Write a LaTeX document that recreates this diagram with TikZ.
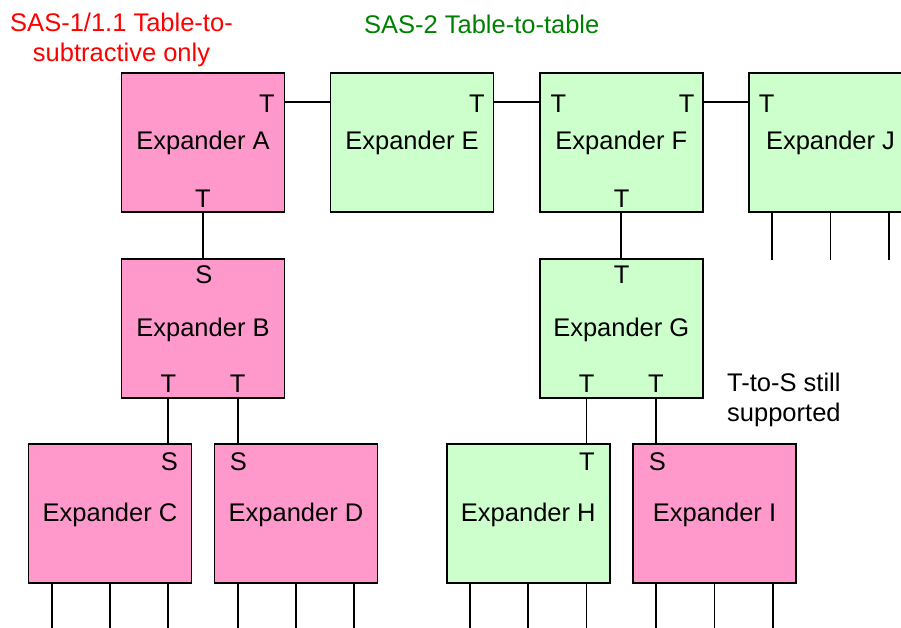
\documentclass[tikz,border=0pt]{standalone}
\usepackage{fontspec}
\setmainfont{Liberation Sans}
\usetikzlibrary{calc}

\definecolor{sasone}{HTML}{FF99CC}
\definecolor{sastwo}{HTML}{CCFFCC}
\definecolor{titlered}{HTML}{FF0000}
\definecolor{titlegreen}{HTML}{008000}

\tikzset{
  bigtext/.style={font=\fontsize{25.5}{30}\selectfont},
  expander/.style={draw=black, line width=1.7pt, minimum width=163pt,
    minimum height=139pt, inner sep=0pt, bigtext,
    text height=18.3pt, text depth=3.3pt},
  legacy/.style={expander, fill=sasone},
  modern/.style={expander, fill=sastwo},
  portlabel/.style={inner sep=0pt, bigtext},
  link/.style={line width=1.7pt, draw=black},
  caption/.style={inner sep=0pt, bigtext, align=center},
}

\begin{document}
\begin{tikzpicture}[x=1pt, y=-1pt]
  \useasboundingbox (0,0) rectangle (901,628);
  \clip (0,0) rectangle (901,628);

  % headings (base anchor = baseline of the last line)
  \node[caption, text=titlered, anchor=base] (sasonetitle) at (121.5,61.7)
    {SAS-1/1.1 Table-to-\\subtractive only};
  \node[caption, text=titlegreen, anchor=base] (sastwotitle) at (481.7,34)
    {SAS-2 Table-to-table};

  % top row
  \node[legacy] (A) at (203,142.5)   {Expander A};
  \node[modern] (E) at (412,142.5)   {Expander E};
  \node[modern] (F) at (621.3,142.5) {Expander F};
  \node[modern] (J) at (830.5,142.5) {Expander J};

  % middle row
  \node[legacy] (B) at (203,328.5)   {Expander B};
  \node[modern] (G) at (621.3,328.5) {Expander G};

  % bottom row
  \node[legacy] (C) at (110,513.5)   {Expander C};
  \node[legacy] (D) at (296,513.5)   {Expander D};
  \node[modern] (H) at (528.3,513.5) {Expander H};
  \node[legacy] (I) at (714.5,513.5) {Expander I};

  % table links between the top-row expanders
  \draw[link] ([yshift=40.5pt]A.east) -- ([yshift=40.5pt]E.west);
  \draw[link] ([yshift=40.5pt]E.east) -- ([yshift=40.5pt]F.west);
  \draw[link] ([yshift=40.5pt]F.east) -- ([yshift=40.5pt]J.west);

  % vertical links
  \draw[link] (A.south) -- (B.north);
  \draw[link] (F.south) -- (G.north);
  \draw[link] ([xshift=-34.7pt]B.south) -- ([xshift=-34.7pt]B.south |- C.north);
  \draw[link] ([xshift=34.7pt]B.south)  -- ([xshift=34.7pt]B.south |- D.north);
  \draw[link] ([xshift=-34.7pt]G.south) -- ([xshift=-34.7pt]G.south |- H.north);
  \draw[link] ([xshift=34.7pt]G.south)  -- ([xshift=34.7pt]G.south |- I.north);

  % end-device legs
  \foreach \b in {C,D,H,I}
    \foreach \dx in {-58.3,0,58.3}
      \draw[link] ([xshift=\dx pt]\b.south) -- ++(0,46);
  \foreach \dx in {-58.3,0,58.3}
    \draw[link] ([xshift=\dx pt]J.south) -- ++(0,47);

  % port labels
  \node[portlabel] (Aright)  at (267,104)   {T};
  \node[portlabel] (Abottom) at (203,199)   {T};
  \node[portlabel] (Eright)  at (477,104)   {T};
  \node[portlabel] (Fleft)   at (558.3,104) {T};
  \node[portlabel] (Fright)  at (686.7,104) {T};
  \node[portlabel] (Fbottom) at (621.7,199) {T};
  \node[portlabel] (Jleft)   at (766.7,104) {T};
  \node[portlabel] (Btop)    at (204,275)   {S};
  \node[portlabel] (Bleft)   at (168.3,384) {T};
  \node[portlabel] (Bright)  at (237.7,384) {T};
  \node[portlabel] (Gtop)    at (621.7,275) {T};
  \node[portlabel] (Gleft)   at (586.7,384) {T};
  \node[portlabel] (Gright)  at (656,384)   {T};
  \node[portlabel] (Ctop)    at (169.3,462) {S};
  \node[portlabel] (Dtop)    at (238.3,462) {S};
  \node[portlabel] (Htop)    at (587,462)   {T};
  \node[portlabel] (Itop)    at (657.3,462) {S};

  % note
  \node[caption, align=left, anchor=base west] (note) at (727,421.5)
    {T-to-S still\\supported};
\end{tikzpicture}
\end{document}
